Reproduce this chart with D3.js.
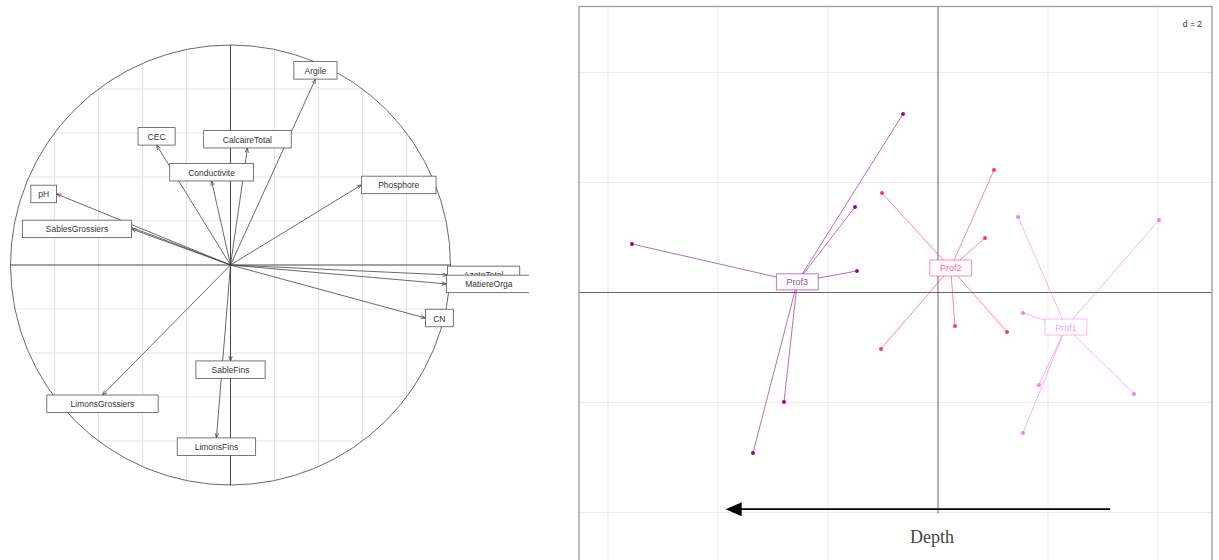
<!DOCTYPE html>
<html>
<head>
<meta charset="utf-8">
<script src="https://cdn.jsdelivr.net/npm/d3@7"></script>
<style>
  body { margin: 0; background: #fff; }
  svg { display: block; font-family: "Liberation Sans", Arial, Helvetica, sans-serif; }
</style>
</head>
<body>
<svg id="chart" width="1219" height="560"></svg>
<script>
// ---- Correlation circle: variable loadings on axes 1 and 2 ----
const varNames = ["Argile", "CalcaireTotal", "Conductivite", "CEC", "pH", "", "SablesGrossiers",
                  "Phosphore", "AzoteTotal", "MatiereOrga", "CN", "SableFins", "LimonsFins", "LimonsGrossiers"];
const varAxis1 = [0.386, 0.077, -0.086, -0.336, -0.791, -0.50, -0.450,
                  0.595, 0.986, 0.982, 0.886, 0.000, -0.064, -0.582];
const varAxis2 = [0.845, 0.532, 0.382, 0.545, 0.323, 0.190, 0.164,
                  0.364, -0.045, -0.086, -0.241, -0.436, -0.786, -0.591];
const circleGrid = [-0.8, -0.6, -0.4, -0.2, 0.2, 0.4, 0.6, 0.8];

// ---- Sample scores grouped by depth ----
const depthClasses = ["Prof1", "Prof2", "Prof3"];
const prof1X = [1.455, 4.018, 1.545, 1.836, 3.564, 1.545];
const prof1Y = [1.373, 1.318, -0.373, -1.682, -1.845, -2.555];
const prof2X = [-1.018, 1.018, 0.855, 0.309, 1.255, -1.036];
const prof2Y = [1.809, 2.227, 0.991, -0.609, -0.718, -1.027];
const prof3X = [-5.564, -1.509, -1.473, -0.636, -2.800, -3.364];
const prof3Y = [0.882, 1.555, 0.391, 3.245, -1.991, -2.918];
const classColors = ["#f57cf3", "#ff2d8c", "#8c0a8e"];
const gridTicks = [-6, -4, -2, 2, 4];
const gridStep = "d = 2";
// Depth trend arrow, in score units
const depthArrowX = [3.13, -3.86];
const depthArrowY = [-3.94, -3.94];
const depthLabel = "Depth";

const svg = d3.select("#chart");

// ================= Left panel: correlation circle =================
const cx = 230.5, cy = 265, R = 220;
const xL = d3.scaleLinear().domain([-1, 1]).range([cx - R, cx + R]);
const yL = d3.scaleLinear().domain([-1, 1]).range([cy + R, cy - R]);

svg.append("defs").call(d => {
  d.append("clipPath").attr("id", "circClip")
    .append("circle").attr("cx", xL(0)).attr("cy", yL(0)).attr("r", xL(1) - xL(0));
  d.append("clipPath").attr("id", "leftClip")
    .append("rect").attr("x", 0).attr("y", 0).attr("width", 529).attr("height", 560);
});

const left = svg.append("g").attr("clip-path", "url(#leftClip)");
const grid = left.append("g").attr("clip-path", "url(#circClip)")
  .attr("stroke", "#e4e4e4").attr("stroke-width", 1);
circleGrid.forEach(v => {
  grid.append("line").attr("x1", xL(v)).attr("x2", xL(v)).attr("y1", yL(-1)).attr("y2", yL(1));
  grid.append("line").attr("x1", xL(-1)).attr("x2", xL(1)).attr("y1", yL(v)).attr("y2", yL(v));
});
left.append("circle").attr("cx", xL(0)).attr("cy", yL(0)).attr("r", xL(1) - xL(0))
  .attr("fill", "none").attr("stroke", "#6a6a6a").attr("stroke-width", 1);
left.append("line").attr("x1", xL(-1)).attr("x2", xL(1)).attr("y1", yL(0)).attr("y2", yL(0))
  .attr("stroke", "#333").attr("stroke-width", 0.9);
left.append("line").attr("x1", xL(0)).attr("x2", xL(0)).attr("y1", yL(1)).attr("y2", yL(-1))
  .attr("stroke", "#333").attr("stroke-width", 0.9);

// arrows
const arrows = left.append("g").attr("stroke", "#444").attr("stroke-width", 0.8).attr("fill", "none");
varNames.forEach((name, i) => {
  const x0 = xL(0), y0 = yL(0), x1 = xL(varAxis1[i]), y1 = yL(varAxis2[i]);
  arrows.append("line").attr("x1", x0).attr("y1", y0).attr("x2", x1).attr("y2", y1);
  const a = Math.atan2(y1 - y0, x1 - x0), L = 5, w = 0.35;
  arrows.append("path").attr("d",
    `M${x1 - L * Math.cos(a - w)},${y1 - L * Math.sin(a - w)}L${x1},${y1}L${x1 - L * Math.cos(a + w)},${y1 - L * Math.sin(a + w)}`);
});

// label boxes, placed beyond the arrow tip
const labs = left.append("g");
varNames.forEach((name, i) => {
  if (!name) return;
  const dx = varAxis1[i], dy = varAxis2[i];
  const tx = xL(dx), ty = yL(dy);
  const g = labs.append("g");
  const rect = g.append("rect").attr("fill", "#fff").attr("stroke", "#555").attr("stroke-width", 0.8);
  const t = g.append("text").text(name).attr("font-size", 8.5).attr("fill", "#333")
    .attr("text-anchor", "middle").attr("dominant-baseline", "central");
  const tw = t.node().getComputedTextLength();
  const bw = tw * 1.62 + 8, bh = 17.5;
  let bx, by;
  if (Math.abs(dy) > Math.abs(dx)) {
    bx = tx - bw / 2;
    by = dy > 0 ? ty - bh : ty;
  } else {
    by = ty - bh / 2;
    bx = dx > 0 ? tx : tx - bw;
  }
  rect.attr("x", bx).attr("y", by).attr("width", bw).attr("height", bh);
  t.attr("x", bx + bw / 2).attr("y", by + bh / 2 + 0.5);
});

// ================= Right panel: depth classes =================
const xR = d3.scaleLinear().domain([-6.527, 4.982]).range([579, 1212]);
const yR = d3.scaleLinear().domain([-5.3, 5.2]).range([584, 6.5]);
const right = svg.append("g");

const rg = right.append("g").attr("stroke", "#ececec").attr("stroke-width", 1.2);
gridTicks.forEach(v => {
  rg.append("line").attr("x1", xR(v)).attr("x2", xR(v)).attr("y1", yR(5.2)).attr("y2", yR(-5.3));
});
[-4, -2, 2, 4].forEach(v => {
  rg.append("line").attr("x1", xR(-6.527)).attr("x2", xR(4.982)).attr("y1", yR(v)).attr("y2", yR(v));
});
right.append("line").attr("x1", xR(-6.527)).attr("x2", xR(4.982)).attr("y1", yR(0)).attr("y2", yR(0))
  .attr("stroke", "#555").attr("stroke-width", 0.9);
right.append("line").attr("x1", xR(0)).attr("x2", xR(0)).attr("y1", yR(5.2)).attr("y2", yR(-4.02))
  .attr("stroke", "#555").attr("stroke-width", 0.9);
right.append("rect").attr("x", xR(-6.527)).attr("y", yR(5.2))
  .attr("width", xR(4.982) - xR(-6.527)).attr("height", yR(-5.3) - yR(5.2))
  .attr("fill", "none").attr("stroke", "#9a9a9a").attr("stroke-width", 1.3);

right.append("text").text(gridStep).attr("x", 1202).attr("y", 27)
  .attr("text-anchor", "end").attr("font-size", 8.5).attr("fill", "#333");

const classXs = [prof1X, prof2X, prof3X], classYs = [prof1Y, prof2Y, prof3Y];
// stars: segments from class centroid to each sample
depthClasses.forEach((cls, k) => {
  const xs = classXs[k], ys = classYs[k], col = classColors[k];
  const mx = d3.mean(xs), my = d3.mean(ys);
  const g = right.append("g");
  xs.forEach((x, i) => {
    g.append("line").attr("x1", xR(mx)).attr("y1", yR(my)).attr("x2", xR(x)).attr("y2", yR(ys[i]))
      .attr("stroke", col).attr("stroke-opacity", 0.6).attr("stroke-width", 1);
  });
  xs.forEach((x, i) => {
    g.append("circle").attr("cx", xR(x)).attr("cy", yR(ys[i])).attr("r", 2).attr("fill", col);
  });
});
depthClasses.forEach((cls, k) => {
  const xs = classXs[k], ys = classYs[k], col = classColors[k];
  const mx = xR(d3.mean(xs)), my = yR(d3.mean(ys));
  const g = right.append("g");
  const rect = g.append("rect").attr("fill", "#fff").attr("stroke", col)
    .attr("stroke-opacity", 0.55).attr("stroke-width", 1);
  const t = g.append("text").text(cls).attr("x", mx).attr("y", my + 0.5)
    .attr("text-anchor", "middle").attr("dominant-baseline", "central")
    .attr("font-size", 9).attr("fill", col).attr("fill-opacity", 0.8);
  const tw = t.node().getComputedTextLength();
  const bw = tw * 1.62 + 7, bh = 16;
  rect.attr("x", mx - bw / 2).attr("y", my - bh / 2).attr("width", bw).attr("height", bh);
});

// depth trend arrow
const ax0 = xR(depthArrowX[0]), ax1 = xR(depthArrowX[1]);
const ay0 = yR(depthArrowY[0]), ay1 = yR(depthArrowY[1]);
right.append("line").attr("x1", ax0).attr("y1", ay0).attr("x2", ax1 + 14).attr("y2", ay1)
  .attr("stroke", "#000").attr("stroke-width", 1.8);
right.append("path").attr("d", `M${ax1},${ay1}L${ax1 + 16},${ay1 - 7}L${ax1 + 16},${ay1 + 7}Z`)
  .attr("fill", "#000");
right.append("text").text(depthLabel).attr("x", (ax0 + ax1) / 2 + 14).attr("y", 543)
  .attr("text-anchor", "middle").attr("font-family", "'Liberation Serif', 'Times New Roman', serif")
  .attr("font-size", 18).attr("fill", "#444");
</script>
</body>
</html>
